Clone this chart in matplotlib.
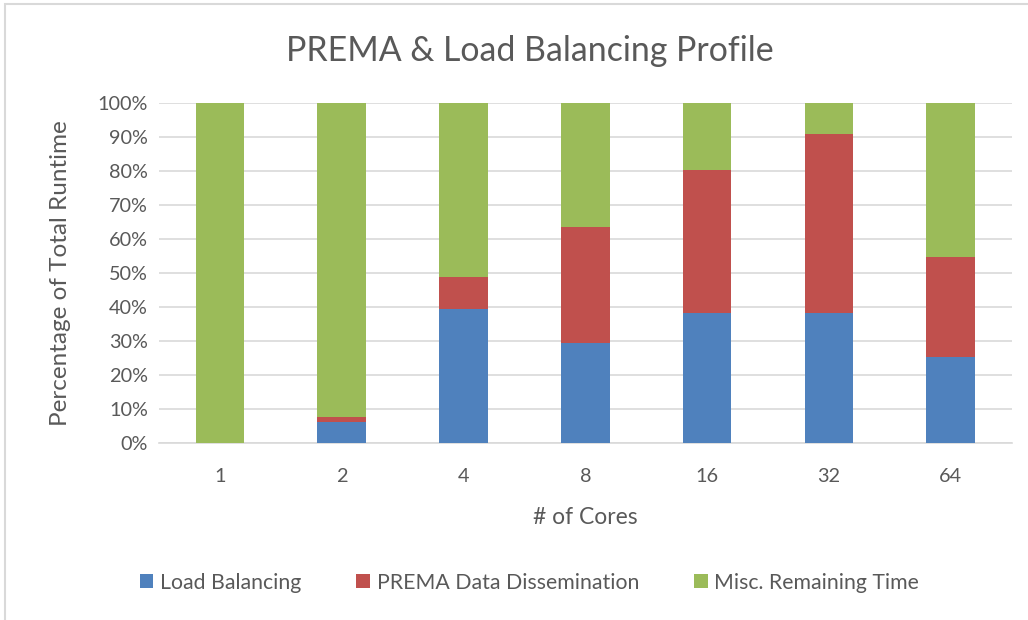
"""
PREMA & Load Balancing Profile - stacked percentage bars per core count.
"""
import numpy as np
import matplotlib
matplotlib.use('Agg')
import matplotlib.pyplot as plt
from matplotlib.patches import Rectangle
from matplotlib.ticker import FuncFormatter

# === Office palette ===
BLUE = '#4F81BD'
RED = '#C0504D'
GREEN = '#9BBB59'
TEXT = '#595959'
GRID = '#D9D9D9'

plt.rcParams.update({
    'font.family': ['Lato', 'DejaVu Sans'],
    'text.color': TEXT,
    'axes.labelcolor': TEXT,
    'xtick.color': TEXT,
    'ytick.color': TEXT,
})

# === Data (% of total runtime) ===
cores = ['1', '2', '4', '8', '16', '32', '64']
load_balancing = [0.0, 6.3, 39.5, 29.4, 38.1, 38.1, 25.2]
prema_dissem = [0.0, 1.2, 9.3, 34.1, 42.2, 52.7, 29.4]
misc_remaining = [100 - a - b for a, b in zip(load_balancing, prema_dissem)]

fig = plt.figure(figsize=(10.28, 6.2), dpi=100, facecolor='white')
ax = fig.add_axes([0.1547, 0.2855, 0.8293, 0.5485])

x = np.arange(len(cores))
w = 0.4
lb = np.array(load_balancing)
pd_ = np.array(prema_dissem)
ms = np.array(misc_remaining)

ax.bar(x, lb, w, color=BLUE, label='Load Balancing', zorder=3)
ax.bar(x, pd_, w, bottom=lb, color=RED, label='PREMA Data Dissemination', zorder=3)
ax.bar(x, ms, w, bottom=lb + pd_, color=GREEN, label='Misc. Remaining Time', zorder=3)

ax.set_xlim(-0.5, len(cores) - 0.5)
ax.set_ylim(0, 100)
ax.set_yticks(np.arange(0, 101, 10))
ax.yaxis.set_major_formatter(FuncFormatter(lambda v, p: f'{v:.0f}%'))
ax.set_xticks(x)
ax.set_xticklabels(cores)
ax.tick_params(length=0, labelsize=14.3)
ax.tick_params(axis='x', pad=18)
ax.tick_params(axis='y', pad=8)

ax.grid(axis='y', color=GRID, linewidth=1.2, zorder=0)
for s in ['top', 'right', 'left']:
    ax.spines[s].set_visible(False)
ax.spines['bottom'].set_color(GRID)
ax.spines['bottom'].set_linewidth(1.2)

ax.set_xlabel('# of Cores', fontsize=16.5, labelpad=16)
ax.set_ylabel('Percentage of Total Runtime', fontsize=17.5, labelpad=19)

fig.text(0.515, 0.918, 'PREMA & Load Balancing Profile', fontsize=24.4,
         ha='center', va='center', color=TEXT)

fig.legend(loc='center', bbox_to_anchor=(0.515, 0.06), ncol=3, frameon=False,
           fontsize=15.3, handlelength=0.65, handleheight=0.65, handletextpad=0.3,
           columnspacing=2.6)

# chart border
fig.patches.append(Rectangle((5 / 1028, -0.01), 1.02, 1 - 4 / 620 + 0.01,
                             transform=fig.transFigure, fill=False,
                             edgecolor=GRID, linewidth=1.5))

fig.savefig('out.png', dpi=100, facecolor='white')
plt.close(fig)
